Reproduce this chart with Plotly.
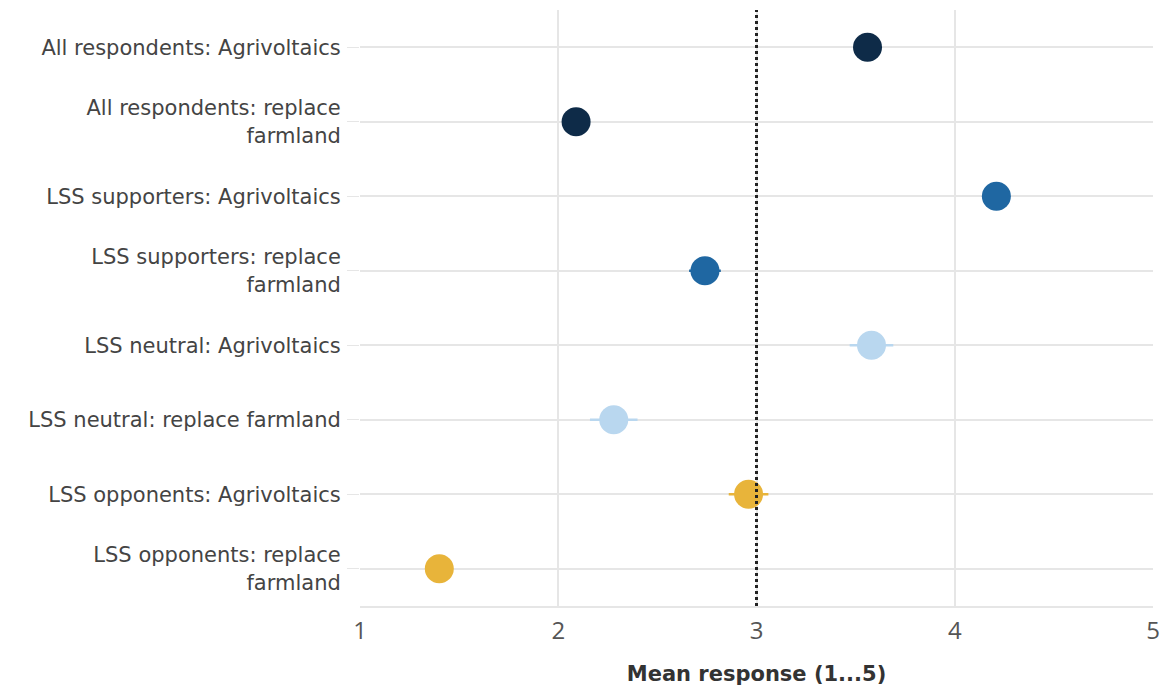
import plotly.graph_objects as go

categories = [
    "All respondents: Agrivoltaics",
    "All respondents: replace<br>farmland",
    "LSS supporters: Agrivoltaics",
    "LSS supporters: replace<br>farmland",
    "LSS neutral: Agrivoltaics",
    "LSS neutral: replace farmland",
    "LSS opponents: Agrivoltaics",
    "LSS opponents: replace<br>farmland",
]
means = [3.56, 2.09, 4.21, 2.74, 3.58, 2.28, 2.96, 1.40]
ci_half = [0.05, 0.05, 0.06, 0.08, 0.11, 0.12, 0.10, 0.06]
groups = ["All", "All", "Sup", "Sup", "Neu", "Neu", "Opp", "Opp"]
group_colors = {"All": "#0e2b48", "Sup": "#1f67a2", "Neu": "#b9d7ef", "Opp": "#e8b43a"}
x_ticks = [1, 2, 3, 4, 5]
reference_value = 3

fig = go.Figure()
for g, col in group_colors.items():
    idx = [i for i, gg in enumerate(groups) if gg == g]
    fig.add_trace(go.Scatter(
        x=[means[i] for i in idx],
        y=[categories[i] for i in idx],
        mode="markers",
        marker=dict(size=29, color=col, line=dict(width=0)),
        error_x=dict(type="data", array=[ci_half[i] for i in idx], width=0,
                     thickness=2.5, color=col),
        showlegend=False,
    ))

fig.add_shape(type="line", x0=reference_value, x1=reference_value, y0=0, y1=1,
              xref="x", yref="paper",
              line=dict(color="#222222", width=3, dash="dot"), layer="above")

fig.update_layout(
    width=1165, height=681,
    margin=dict(l=352, r=20, t=2, b=83),
    plot_bgcolor="white", paper_bgcolor="white",
    font=dict(family="DejaVu Sans", color="#444444"),
    xaxis=dict(
        range=[1, 5], tickvals=x_ticks, ticktext=[str(v) for v in x_ticks],
        showgrid=True, gridcolor="#e6e6e6", gridwidth=1.5,
        zeroline=False, showline=True, linecolor="#e6e6e6", linewidth=1.5,
        tickfont=dict(size=24, color="#555555", family="Open Sans"),
        ticks="", ticklabelstandoff=2,
        title=dict(text="<b>Mean response (1...5)</b>", standoff=22,
                   font=dict(size=21, color="#333333", family="DejaVu Sans")),
    ),
    yaxis=dict(
        categoryorder="array", categoryarray=categories[::-1],
        range=[-0.5, 7.5],
        showgrid=True, gridcolor="#e6e6e6", gridwidth=1.5,
        zeroline=False, showline=False,
        ticks="outside", ticklen=12, tickcolor="#e6e6e6",
        tickfont=dict(size=21, color="#444444", family="DejaVu Sans"),
        ticklabelstandoff=2,
    ),
)

fig.write_html("out.html")
